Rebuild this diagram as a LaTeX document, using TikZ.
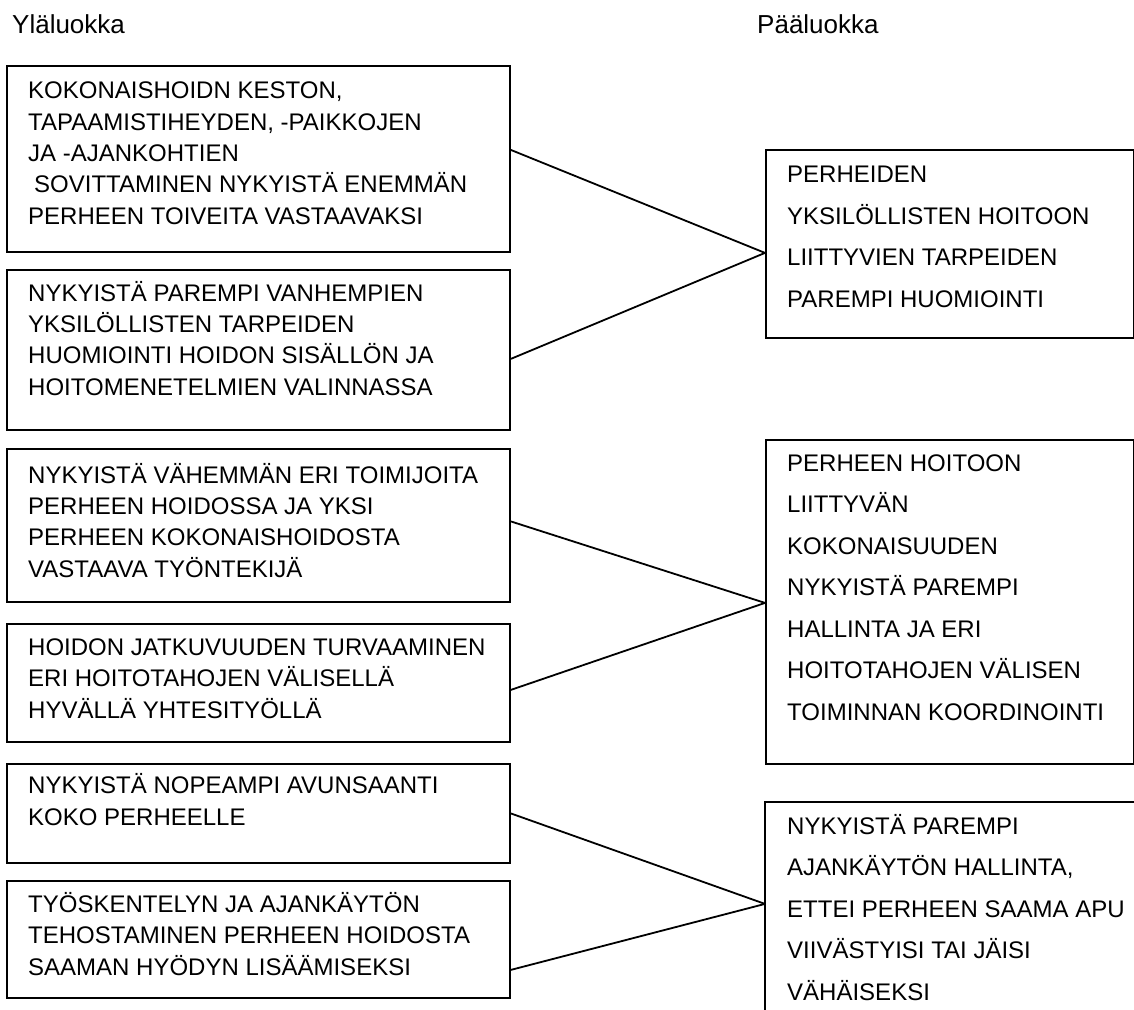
\documentclass[tikz,border=0pt]{standalone}
\usepackage{fontspec}
\setmainfont{Liberation Sans}
\begin{document}
\begin{tikzpicture}[x=1pt,y=-1pt,
  box/.style={draw, line width=1.8pt, rectangle, inner sep=0pt, anchor=north west},
  % text nodes are placed by the baseline of their last line
  txt/.style={anchor=base west, align=left, inner sep=0pt, font=\fontsize{24}{31.3}\selectfont},
  rtxt/.style={anchor=base west, align=left, inner sep=0pt, font=\fontsize{24}{41.5}\selectfont},
  head/.style={anchor=base west, inner sep=0pt, font=\fontsize{26}{30}\selectfont},
  link/.style={line width=1.8pt}]
\useasboundingbox (0,0) rectangle (1134,1009);

% column headings
\node[head] (h1) at (12,33) {Yläluokka};
\node[head] (h2) at (757,33) {Pääluokka};

% lower-level boxes (left column)
\node[box, minimum width=503pt, minimum height=186pt] (l1) at (6,65) {};
\node[box, minimum width=503pt, minimum height=160pt] (l2) at (6,269) {};
\node[box, minimum width=503pt, minimum height=153pt] (l3) at (6,448) {};
\node[box, minimum width=503pt, minimum height=118pt] (l4) at (6,623) {};
\node[box, minimum width=503pt, minimum height=99pt]  (l5) at (6,763) {};
\node[box, minimum width=503pt, minimum height=117pt] (l6) at (6,880) {};

% main-level boxes (right column)
\node[box, minimum width=368pt, minimum height=188pt] (r1) at (765,149) {};
\node[box, minimum width=368pt, minimum height=324pt] (r2) at (765,439) {};
\node[box, draw=none, minimum width=368pt, minimum height=207pt] (r3) at (765,802) {};
\draw[link] (r3.south west) -- (r3.north west) -- (r3.north east) -- (r3.south east);

% texts of the left column
\node[txt] (t1) at (28,224) {KOKONAISHOIDN KESTON,\\TAPAAMISTIHEYDEN, -PAIKKOJEN\\JA -AJANKOHTIEN\\\hspace*{6pt}SOVITTAMINEN NYKYISTÄ ENEMMÄN\\PERHEEN TOIVEITA VASTAAVAKSI};
\node[txt] (t2) at (28,395) {NYKYISTÄ PAREMPI VANHEMPIEN\\YKSILÖLLISTEN TARPEIDEN\\HUOMIOINTI HOIDON SISÄLLÖN JA\\HOITOMENETELMIEN VALINNASSA};
\node[txt] (t3) at (28,577) {NYKYISTÄ VÄHEMMÄN ERI TOIMIJOITA\\PERHEEN HOIDOSSA JA YKSI\\PERHEEN KOKONAISHOIDOSTA\\VASTAAVA TYÖNTEKIJÄ};
\node[txt] (t4) at (28,718) {HOIDON JATKUVUUDEN TURVAAMINEN\\ERI HOITOTAHOJEN VÄLISELLÄ\\HYVÄLLÄ YHTESITYÖLLÄ};
\node[txt] (t5) at (28,825) {NYKYISTÄ NOPEAMPI AVUNSAANTI\\KOKO PERHEELLE};
\node[txt] (t6) at (28,975) {TYÖSKENTELYN JA AJANKÄYTÖN\\TEHOSTAMINEN PERHEEN HOIDOSTA\\SAAMAN HYÖDYN LISÄÄMISEKSI};

% texts of the right column
\node[rtxt] (s1) at (787,307) {PERHEIDEN\\YKSILÖLLISTEN HOITOON\\LIITTYVIEN TARPEIDEN\\PAREMPI HUOMIOINTI};
\node[rtxt] (s2) at (787,720) {PERHEEN HOITOON\\LIITTYVÄN\\KOKONAISUUDEN\\NYKYISTÄ PAREMPI\\HALLINTA JA ERI\\HOITOTAHOJEN VÄLISEN\\TOIMINNAN KOORDINOINTI};
\node[rtxt] (s3) at (787,1000) {NYKYISTÄ PAREMPI\\AJANKÄYTÖN HALLINTA,\\ETTEI PERHEEN SAAMA APU\\VIIVÄSTYISI TAI JÄISI\\VÄHÄISEKSI};

% connectors
\draw[link] ([yshift=9pt]l1.east) -- ([yshift=-9pt]r1.west);
\draw[link] ([yshift=-9pt]l2.east) -- ([yshift=-9pt]r1.west);
\draw[link] ([yshift=4pt]l3.east) -- ([yshift=-1pt]r2.west);
\draw[link] ([yshift=-7pt]l4.east) -- ([yshift=-1pt]r2.west);
\draw[link] (l5.east) -- ([yshift=2.5pt]r3.west);
\draw[link] ([yshift=-30.5pt]l6.east) -- ([yshift=2.5pt]r3.west);
\end{tikzpicture}
\end{document}
